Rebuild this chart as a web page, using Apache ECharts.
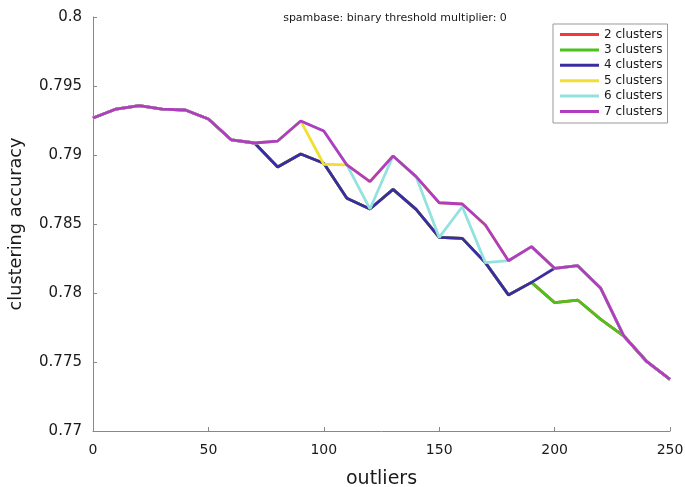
<!DOCTYPE html>
<html>
<head>
    <meta charset="utf-8">
    <title>spambase</title>
    <script src="https://cdn.jsdelivr.net/npm/echarts@6/dist/echarts.min.js"></script>
</head>
<body style="margin:0">
<style type="text/css">
.chart_box{width: 685px; height: 487px;}
</style>
    <div class="chart_box" id="main"></div>
    <script type="text/javascript">
        // 数据
        var outliers = [0,10,20,30,40,50,60,70,80,90,100,110,120,130,140,150,160,170,180,190,200,210,220,230,240,250];
        var acc2 = [0.79268,0.79333,0.79357,0.79333,0.79326,0.79261,0.79109,0.79087,0.78913,0.79007,0.78940,0.78686,0.78609,0.78751,0.78606,0.78403,0.78396,0.78220,0.77986,0.78077,0.77930,0.77949,0.77809,0.77688,0.77502,0.77374];
        var acc3 = [0.79268,0.79333,0.79357,0.79333,0.79326,0.79261,0.79109,0.79087,0.78913,0.79007,0.78940,0.78686,0.78609,0.78751,0.78606,0.78403,0.78396,0.78220,0.77986,0.78077,0.77930,0.77949,0.77809,0.77688,0.77502,0.77374];
        var acc4 = [0.79268,0.79333,0.79357,0.79333,0.79326,0.79261,0.79109,0.79087,0.78913,0.79007,0.78940,0.78686,0.78609,0.78751,0.78606,0.78403,0.78396,0.78220,0.77986,0.78077,0.78179,0.78198,0.78034,0.77688,0.77502,0.77374];
        var acc5 = [0.79268,0.79333,0.79357,0.79333,0.79326,0.79261,0.79109,0.79087,0.79101,0.79246,0.78933,0.78928,0.78807,0.78993,0.78843,0.78654,0.78645,0.78493,0.78234,0.78336,0.78179,0.78198,0.78034,0.77688,0.77502,0.77374];
        var acc6 = [0.79268,0.79333,0.79357,0.79333,0.79326,0.79261,0.79109,0.79087,0.79101,0.79246,0.79174,0.78928,0.78609,0.78993,0.78843,0.78403,0.78625,0.78220,0.78234,0.78336,0.78179,0.78198,0.78034,0.77688,0.77502,0.77374];
        var acc7 = [0.79268,0.79333,0.79357,0.79333,0.79326,0.79261,0.79109,0.79087,0.79101,0.79246,0.79174,0.78928,0.78807,0.78993,0.78843,0.78654,0.78645,0.78493,0.78234,0.78336,0.78179,0.78198,0.78034,0.77688,0.77502,0.77374];
        var names = ['2 clusters','3 clusters','4 clusters','5 clusters','6 clusters','7 clusters'];
        var colors = ['#f23a3a','#4cc21c','#3a2da3','#f2e030','#94e2e0','#b23cbf'];

        var allAcc = [acc2, acc3, acc4, acc5, acc6, acc7];
        var series = [];
        for (var i = 0; i < allAcc.length; i++) {
            var pts = [];
            for (var j = 0; j < outliers.length; j++) {
                pts.push([outliers[j], allAcc[i][j]]);
            }
            series.push({
                name: names[i],
                type: 'line',
                data: pts,
                showSymbol: false,
                color: colors[i],
                lineStyle: {width: 2.8, color: colors[i]},
                animation: false
            });
        }

        var myChart = echarts.init(document.getElementById('main'));
        var font = 'DejaVu Sans, Verdana, sans-serif';
        myChart.setOption({
            backgroundColor: '#fff',
            textStyle: {fontFamily: font},
            title: {
                text: 'spambase: binary threshold multiplier: 0',
                left: 390,
                textAlign: 'center',
                top: 8,
                textStyle: {fontSize: 11, fontWeight: 'normal', color: '#1a1a1a', fontFamily: font}
            },
            legend: {
                data: names,
                orient: 'vertical',
                left: 553,
                top: 24,
                icon: 'rect',
                itemWidth: 39,
                itemHeight: 3,
                itemGap: 2.4,
                padding: [4, 5, 5, 7],
                borderColor: '#999',
                borderWidth: 1,
                textStyle: {fontSize: 12, lineHeight: 13, color: '#1a1a1a', fontFamily: font}
            },
            grid: {left: 93, right: 15, top: 17, bottom: 56, containLabel: false, outerBoundsMode: 'none'},
            xAxis: {
                type: 'value',
                min: 0,
                max: 250,
                interval: 50,
                name: 'outliers',
                nameLocation: 'middle',
                nameGap: 39,
                nameTextStyle: {fontSize: 19, color: '#1a1a1a', fontFamily: font},
                axisLine: {lineStyle: {color: '#888'}},
                axisTick: {inside: true, length: 4, lineStyle: {color: '#888'}},
                axisLabel: {fontSize: 14, color: '#1a1a1a', margin: 12, fontFamily: font},
                splitLine: {show: false}
            },
            yAxis: {
                type: 'value',
                min: 0.77,
                max: 0.8,
                interval: 0.005,
                name: 'clustering accuracy',
                nameLocation: 'middle',
                nameGap: 68,
                nameTextStyle: {fontSize: 17.7, color: '#1a1a1a', fontFamily: font},
                axisLine: {show: true, lineStyle: {color: '#888'}},
                axisTick: {show: true, inside: true, length: 4, lineStyle: {color: '#888'}},
                axisLabel: {
                    fontSize: 15, color: '#1a1a1a', margin: 11, fontFamily: font,
                    formatter: function (v) { return String(+v.toFixed(3)); }
                },
                splitLine: {show: false}
            },
            series: series
        });
    </script>
</body>
</html>
